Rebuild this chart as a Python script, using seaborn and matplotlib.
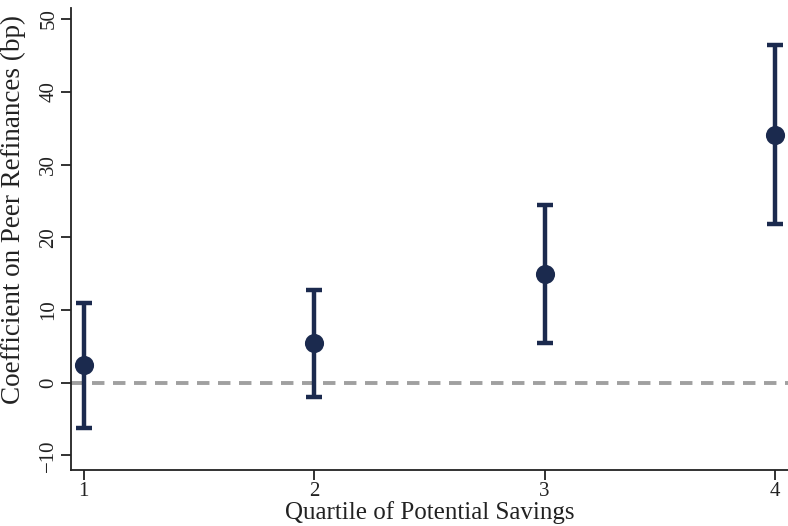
import matplotlib
matplotlib.use("Agg")
import matplotlib.pyplot as plt
import seaborn as sns
import pandas as pd

quartiles = [1, 2, 3, 4]
coef = [2.5, 5.4, 14.9, 34.1]
ci_low = [-6.2, -1.9, 5.5, 21.8]
ci_high = [11.0, 12.7, 24.5, 46.5]
y_ticks = [-10, 0, 10, 20, 30, 40, 50]

df = pd.DataFrame({"q": quartiles, "coef": coef, "lo": ci_low, "hi": ci_high})

sns.set_style("ticks")
plt.rcParams['font.family'] = ['Liberation Serif', 'DejaVu Serif']

navy = "#1b2a4e"
fig = plt.figure(figsize=(7.88, 5.26), dpi=100)
ax = fig.add_axes([0.090, 0.1065, 0.910, 0.878])

ax.axhline(0, color="#a0a0a0", lw=2.8, ls=(0, (3.2, 2.2)), zorder=1)
ax.errorbar(df["q"], df["coef"],
            yerr=[df["coef"] - df["lo"], df["hi"] - df["coef"]],
            fmt="none", ecolor=navy, elinewidth=3.2, capsize=6, capthick=3.2, zorder=2)
sns.scatterplot(data=df, x="q", y="coef", color=navy, s=190, edgecolor=navy,
                linewidth=0, ax=ax, zorder=3)

ax.set_xlim(0.944, 4.057)
ax.set_ylim(-12, 51.5)
ax.set_xticks(quartiles)
ax.set_yticks(y_ticks)
ax.set_yticklabels([str(v).replace("-", "\u2212") for v in y_ticks], rotation=90, va="center")
ax.tick_params(axis="both", labelsize=15, length=7, width=1.3, color="#222222", labelcolor="#222222", pad=2)
ax.set_xlabel("Quartile of Potential Savings", fontsize=18, color="#222222", labelpad=0)
ax.set_ylabel("Coefficient on Peer Refinances (bp)", fontsize=19.5, color="#222222")
ax.yaxis.set_label_coords(-0.062, 0.563)
for s in ["top", "right"]:
    ax.spines[s].set_visible(False)
for s in ["left", "bottom"]:
    ax.spines[s].set_linewidth(1.3)
    ax.spines[s].set_color("#222222")

fig.savefig("out.png", dpi=100)
